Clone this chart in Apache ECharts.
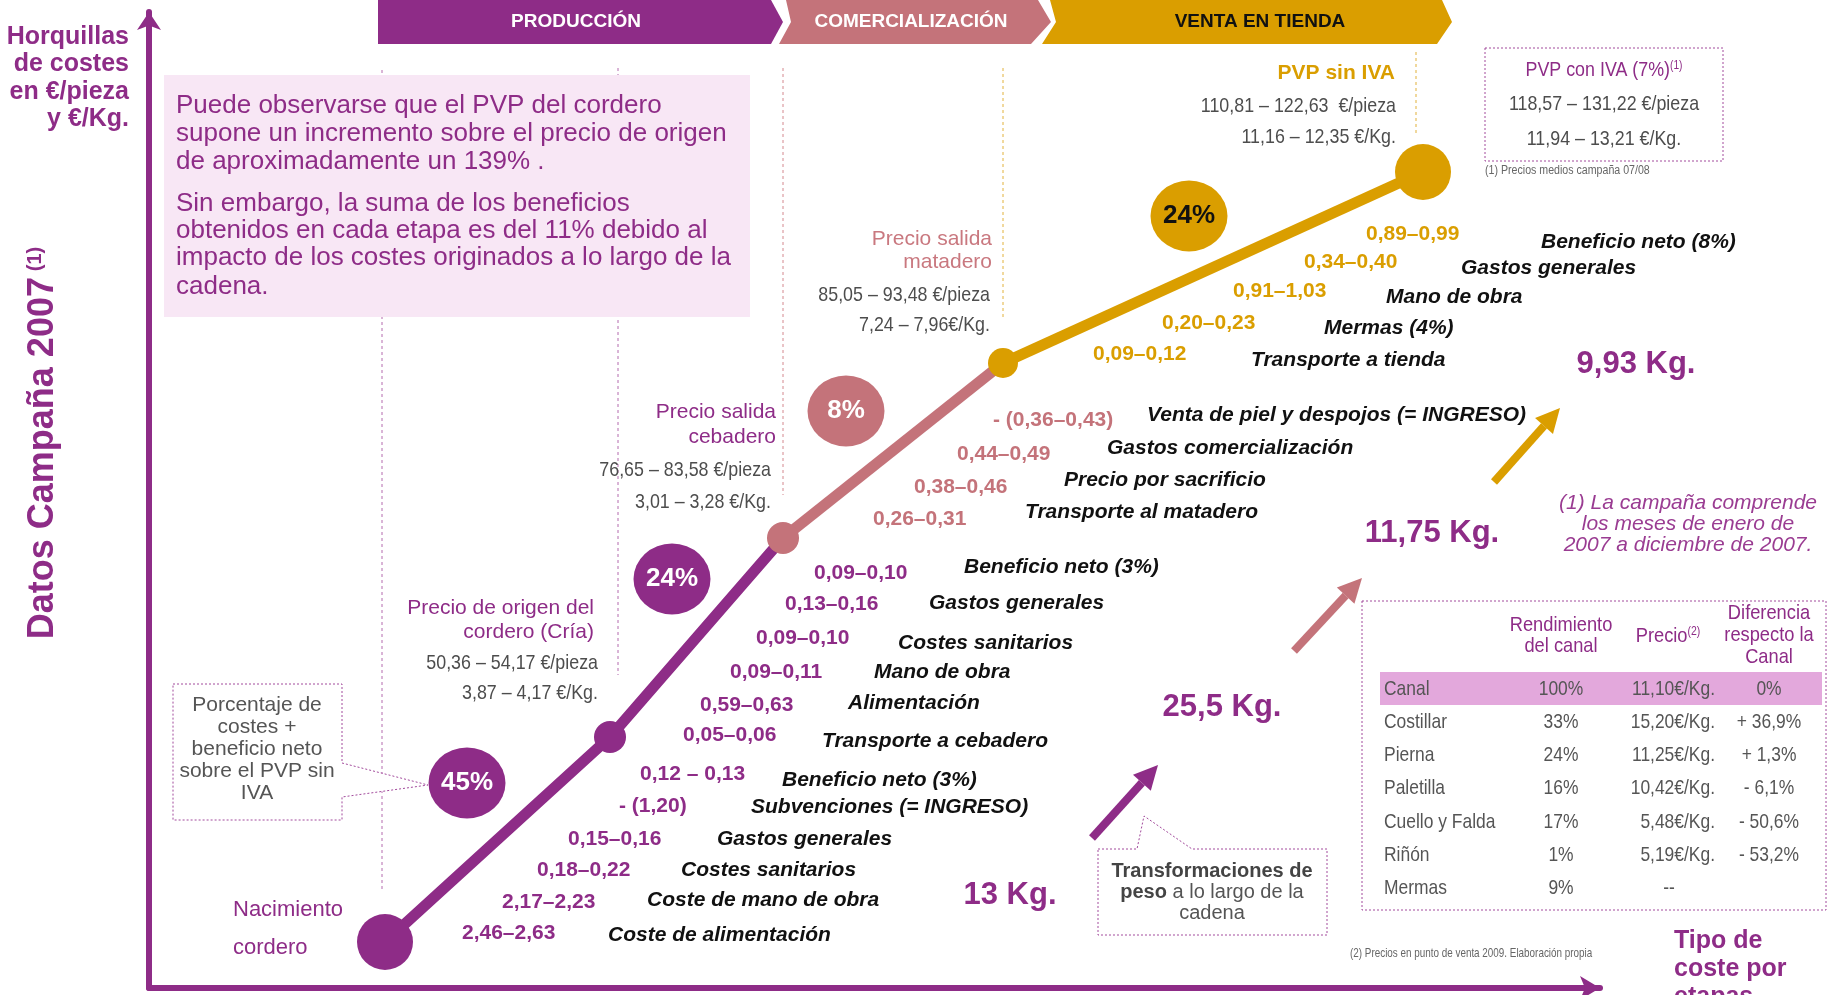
<!DOCTYPE html>
<html>
<head>
<meta charset="utf-8">
<script src="https://cdn.jsdelivr.net/npm/echarts@6/dist/echarts.min.js"></script>
<style>
html, body { margin: 0; padding: 0; background: #fff; }
#chart { width: 1836px; height: 995px; }
</style>
</head>
<body>
<div id="chart"></div>
<script>
// etapas de la cadena (en unidades del eje)
const stages = ['Nacimiento cordero', 'Precio de origen', 'Precio salida cebadero', 'Precio salida matadero', 'PVP sin IVA'];
const stageX = [236, 461, 634, 854, 1274];
const stageY = [46, 251, 450, 625, 816];

// porcentaje de costes + beneficio neto sobre el PVP sin IVA
const stagePct = ['45%', '24%', '8%', '24%'];
const pctX = [318, 523, 697, 1040];
const pctY = [205, 409, 577, 772];

// horquillas de precio por etapa
const origenPrice = ['50,36 – 54,17 €/pieza', '3,87 – 4,17 €/Kg.'];
const cebaderoPrice = ['76,65 – 83,58 €/pieza', '3,01 – 3,28 €/Kg.'];
const mataderoPrice = ['85,05 – 93,48 €/pieza', '7,24 – 7,96€/Kg.'];
const pvpPrice = ['110,81 – 122,63  €/pieza', '11,16 – 12,35 €/Kg.'];
const pvpIvaPrice = ['118,57 – 131,22 €/pieza', '11,94 – 13,21 €/Kg.'];

// costes por etapa (€/Kg.)
const criaValues = ['2,46–2,63', '2,17–2,23', '0,18–0,22', '0,15–0,16', '- (1,20)', '0,12 – 0,13'];
const criaLabels = ['Coste de alimentación', 'Coste de mano de obra', 'Costes sanitarios', 'Gastos generales', 'Subvenciones (= INGRESO)', 'Beneficio neto (3%)'];
const cebaderoValues = ['0,05–0,06', '0,59–0,63', '0,09–0,11', '0,09–0,10', '0,13–0,16', '0,09–0,10'];
const cebaderoLabels = ['Transporte a cebadero', 'Alimentación', 'Mano de obra', 'Costes sanitarios', 'Gastos generales', 'Beneficio neto (3%)'];
const mataderoValues = ['0,26–0,31', '0,38–0,46', '0,44–0,49', '- (0,36–0,43)'];
const mataderoLabels = ['Transporte al matadero', 'Precio por sacrificio', 'Gastos comercialización', 'Venta de piel y despojos (= INGRESO)'];
const tiendaValues = ['0,09–0,12', '0,20–0,23', '0,91–1,03', '0,34–0,40', '0,89–0,99'];
const tiendaLabels = ['Transporte a tienda', 'Mermas (4%)', 'Mano de obra', 'Gastos generales', 'Beneficio neto (8%)'];

// pesos a lo largo de la cadena
const weights = ['13 Kg.', '25,5 Kg.', '11,75 Kg.', '9,93 Kg.'];

// tabla de despiece
const cuts = ['Canal', 'Costillar', 'Pierna', 'Paletilla', 'Cuello y Falda', 'Riñón', 'Mermas'];
const cutYield = ['100%', '33%', '24%', '16%', '17%', '1%', '9%'];
const cutPrice = ['11,10€/Kg.', '15,20€/Kg.', '11,25€/Kg.', '10,42€/Kg.', '5,48€/Kg.', '5,19€/Kg.', '--'];
const cutDiff = ['0%', '+ 36,9%', '+ 1,3%', '- 6,1%', '- 50,6%', '- 53,2%', ''];

const P = '#8E2C87', R = '#C4737A', G = '#DA9E00', GRAY = '#4D4D4D';
const F = '"Liberation Sans", Arial, sans-serif';

function T(x, y, text, o) {
    o = o || {};
    return {
        type: 'text', x: x, y: y, z: o.z || 20, scaleX: o.sx || 1, rotation: o.rot || 0,
        style: {
            text: text, x: 0, y: 0,
            fill: o.color || GRAY,
            font: o.font || ('21px ' + F),
            textAlign: o.align || 'left',
            textVerticalAlign: 'middle',
            rich: o.rich
        }
    };
}

function arrow(x0, y0, x1, y1, color) {
    const dx = x1 - x0, dy = y1 - y0, len = Math.hypot(dx, dy);
    const ux = dx / len, uy = dy / len, L = 24, W = 12;
    const bx = x1 - ux * L, by = y1 - uy * L;
    return [
        { type: 'line', z: 5, shape: { x1: x0, y1: y0, x2: bx, y2: by }, style: { stroke: color, lineWidth: 8 } },
        { type: 'polygon', z: 5, shape: { points: [[x1, y1], [bx - uy * W, by + ux * W], [bx + uy * W, by - ux * W]] }, style: { fill: color } }
    ];
}

function vdash(x, y1, y2, color) {
    return { type: 'line', z: 1, shape: { x1: x, y1: y1, x2: x, y2: y2 }, style: { stroke: color, lineWidth: 1, lineDash: [3, 3] } };
}

const g = [];

// cabecera de etapas
g.push({ type: 'polygon', z: 1, shape: { points: [[378, 0], [771, 0], [783, 22], [771, 44], [378, 44]] }, style: { fill: P } });
g.push({ type: 'polygon', z: 1, shape: { points: [[786, 0], [1038, 0], [1051, 22], [1031, 44], [779, 44], [791, 22]] }, style: { fill: R } });
g.push({ type: 'polygon', z: 1, shape: { points: [[1050, 0], [1442, 0], [1452, 22], [1437, 44], [1042, 44], [1056, 22]] }, style: { fill: G } });
g.push(T(576, 22, 'PRODUCCIÓN', { color: '#fff', font: 'bold 19px ' + F, align: 'center' }));
g.push(T(911, 22, 'COMERCIALIZACIÓN', { color: '#fff', font: 'bold 19px ' + F, align: 'center' }));
g.push(T(1260, 22, 'VENTA EN TIENDA', { color: '#111', font: 'bold 19px ' + F, align: 'center' }));

// titulo del eje vertical
['Horquillas', 'de costes', 'en €/pieza', 'y €/Kg.'].forEach((s, i) => {
    g.push(T(129, 37 + i * 27.5, s, { color: P, font: 'bold 25px ' + F, align: 'right' }));
});
g.push(T(43, 443, '{m|Datos Campaña 2007} {s|(1)}', {
    rot: Math.PI / 2, align: 'center',
    rich: { m: { font: 'bold 36px ' + F, fill: P }, s: { font: 'bold 20px ' + F, fill: P, verticalAlign: 'top' } }
}));

// lineas punteadas verticales
g.push(vdash(382, 70, 890, '#B46AAE'));
g.push(vdash(618, 68, 675, '#B46AAE'));
g.push(vdash(783, 68, 495, '#D4888E'));
g.push(vdash(1003, 68, 320, '#E2B23C'));
g.push(vdash(1416, 52, 133, '#E2B23C'));

// cuadro de texto
g.push({ type: 'rect', z: 2, shape: { x: 164, y: 75, width: 586, height: 242 }, style: { fill: '#F8E7F5' } });
const boxLines = ['Puede observarse que el PVP del cordero', 'supone un incremento sobre el precio de origen', 'de aproximadamente un 139% .',
    'Sin embargo, la suma de los beneficios', 'obtenidos en cada etapa es del 11% debido al', 'impacto de los costes originados a lo largo de la', 'cadena.'];
const boxY = [106, 134, 162, 204, 231, 258, 287];
boxLines.forEach((s, i) => g.push(T(176, boxY[i], s, { color: P, font: '26px ' + F })));

// etiquetas de etapas
g.push(T(233, 910, 'Nacimiento', { color: P, font: '22px ' + F }));
g.push(T(233, 948, 'cordero', { color: P, font: '22px ' + F }));
g.push(T(594, 608, 'Precio de origen del', { color: P, align: 'right' }));
g.push(T(594, 632, 'cordero (Cría)', { color: P, align: 'right' }));
g.push(T(598, 663, origenPrice[0], { align: 'right', sx: 0.85 }));
g.push(T(598, 693, origenPrice[1], { align: 'right', sx: 0.85 }));
g.push(T(776, 412, 'Precio salida', { color: P, align: 'right' }));
g.push(T(776, 437, 'cebadero', { color: P, align: 'right' }));
g.push(T(771, 470, cebaderoPrice[0], { align: 'right', sx: 0.85 }));
g.push(T(771, 502, cebaderoPrice[1], { align: 'right', sx: 0.85 }));
g.push(T(992, 239, 'Precio salida', { color: '#C9787F', align: 'right' }));
g.push(T(992, 262, 'matadero', { color: '#C9787F', align: 'right' }));
g.push(T(990, 295, mataderoPrice[0], { align: 'right', sx: 0.85 }));
g.push(T(990, 325, mataderoPrice[1], { align: 'right', sx: 0.85 }));
g.push(T(1395, 73, 'PVP sin IVA', { color: G, align: 'right', font: 'bold 21px ' + F }));
g.push(T(1396, 106, pvpPrice[0], { align: 'right', sx: 0.85 }));
g.push(T(1396, 137, pvpPrice[1], { align: 'right', sx: 0.85 }));

// PVP con IVA
g.push({ type: 'rect', z: 2, shape: { x: 1485, y: 48, width: 238, height: 113 }, style: { fill: 'rgba(255,255,255,0.6)', stroke: '#A24A9C', lineWidth: 1, lineDash: [2, 2] } });
g.push(T(1604, 70, '{a|PVP con IVA (7%)}{s|(1)}', { align: 'center', sx: 0.85, rich: { a: { font: '21px ' + F, fill: P }, s: { font: '12px ' + F, fill: P, verticalAlign: 'top' } } }));
g.push(T(1604, 104, pvpIvaPrice[0], { align: 'center', sx: 0.85 }));
g.push(T(1604, 139, pvpIvaPrice[1], { align: 'center', sx: 0.85 }));
g.push(T(1485, 171, '(1) Precios medios campaña 07/08', { font: '12.5px ' + F, sx: 0.85, color: '#666' }));

// costes por grupo
function costs(values, labels, vx, vy, lx, ly, color) {
    values.forEach((v, i) => {
        g.push(T(vx[i], vy[i], v, { color: color, font: 'bold 21px ' + F }));
        g.push(T(lx[i], ly[i], labels[i], { color: '#111', font: 'italic bold 21px ' + F }));
    });
}
costs(criaValues, criaLabels, [462, 502, 537, 568, 619, 640], [933, 902, 870, 839, 806, 774],
    [608, 647, 681, 717, 751, 782], [935, 900, 870, 839, 807, 780], P);
costs(cebaderoValues, cebaderoLabels, [683, 700, 730, 756, 785, 814], [735, 705, 672, 638, 604, 573],
    [822, 848, 874, 898, 929, 964], [741, 703, 672, 643, 603, 567], P);
costs(mataderoValues, mataderoLabels, [873, 914, 957, 993], [519, 487, 454, 420],
    [1025, 1064, 1107, 1147], [512, 480, 448, 415], R);
costs(tiendaValues, tiendaLabels, [1093, 1162, 1233, 1304, 1366], [354, 323, 291, 262, 234],
    [1251, 1324, 1386, 1461, 1541], [360, 328, 297, 268, 242], G);

// caja porcentaje
g.push({ type: 'polygon', z: 2, shape: { points: [[173, 684], [342, 684], [342, 763], [428, 785], [342, 797], [342, 820], [173, 820]] },
    style: { fill: '#fff', stroke: '#A24A9C', lineWidth: 1, lineDash: [2, 2] } });
['Porcentaje de', 'costes +', 'beneficio neto', 'sobre el PVP sin', 'IVA'].forEach((s, i) => {
    g.push(T(257, 705 + i * 22, s, { align: 'center', color: '#555' }));
});

// pesos y flechas
const weightPos = [[1010, 895], [1222, 707], [1432, 533], [1636, 364]];
weights.forEach((w, i) => g.push(T(weightPos[i][0], weightPos[i][1], w, { color: P, font: 'bold 31px ' + F, align: 'center' })));
arrow(1092, 838, 1158, 765, P).forEach(e => g.push(e));
arrow(1294, 651, 1362, 578, R).forEach(e => g.push(e));
arrow(1494, 482, 1560, 408, G).forEach(e => g.push(e));

g.push({ type: 'polygon', z: 2, shape: { points: [[1098, 849], [1137, 849], [1144, 816], [1192, 849], [1327, 849], [1327, 935], [1098, 935]] },
    style: { fill: '#fff', stroke: '#A24A9C', lineWidth: 1, lineDash: [2, 2] } });
const trRich = { b: { font: 'bold 20px ' + F, fill: '#444' }, r: { font: '20px ' + F, fill: '#555' } };
g.push(T(1212, 871, '{b|Transformaciones de}', { align: 'center', rich: trRich }));
g.push(T(1212, 892, '{b|peso}{r| a lo largo de la}', { align: 'center', rich: trRich }));
g.push(T(1212, 913, '{r|cadena}', { align: 'center', rich: trRich }));

// nota campaña
['(1) La campaña comprende', 'los meses de enero de', '2007 a diciembre de 2007.'].forEach((s, i) => {
    g.push(T(1688, 503 + i * 21, s, { color: '#9A3C92', font: 'italic 21px ' + F, align: 'center' }));
});

// tabla
g.push({ type: 'rect', z: 2, shape: { x: 1362, y: 601, width: 464, height: 309 }, style: { fill: '#fff', stroke: '#A24A9C', lineWidth: 1, lineDash: [2, 2] } });
g.push({ type: 'rect', z: 3, shape: { x: 1380, y: 672, width: 442, height: 33 }, style: { fill: '#E3A8DC' } });
g.push(T(1561, 625, 'Rendimiento', { color: P, align: 'center', sx: 0.87 }));
g.push(T(1561, 646, 'del canal', { color: P, align: 'center', sx: 0.87 }));
g.push(T(1668, 636, '{a|Precio}{s|(2)}', { align: 'center', sx: 0.87, rich: { a: { font: '21px ' + F, fill: P }, s: { font: '12px ' + F, fill: P, verticalAlign: 'top' } } }));
g.push(T(1769, 613, 'Diferencia', { color: P, align: 'center', sx: 0.87 }));
g.push(T(1769, 635, 'respecto la', { color: P, align: 'center', sx: 0.87 }));
g.push(T(1769, 657, 'Canal', { color: P, align: 'center', sx: 0.87 }));
cuts.forEach((c, i) => {
    const y = 689 + i * 33.2;
    g.push(T(1384, y, c, { sx: 0.83, color: '#555' }));
    g.push(T(1561, y, cutYield[i], { sx: 0.83, color: '#555', align: 'center' }));
    if (cutPrice[i] === '--') g.push(T(1669, y, cutPrice[i], { sx: 0.83, color: '#555', align: 'center' }));
    else g.push(T(1715, y, cutPrice[i], { sx: 0.83, color: '#555', align: 'right' }));
    g.push(T(1769, y, cutDiff[i], { sx: 0.83, color: '#555', align: 'center' }));
});
g.push(T(1350, 953, '(2) Precios en punto de venta 2009. Elaboración propia', { font: '13px ' + F, sx: 0.76, color: '#666' }));

// titulo eje horizontal
['Tipo de', 'coste por', 'etapas'].forEach((s, i) => g.push(T(1674, 941 + i * 28, s, { color: P, font: 'bold 25px ' + F })));

const pts = stageX.map((x, i) => [x, stageY[i]]);
const dotColors = [P, P, R, G, G];
const dotSizes = [56, 32, 32, 30, 56];
const bubbleColors = [P, P, R, G];
const bubbleText = ['#fff', '#fff', '#fff', '#111'];

const option = {
    animation: false,
    backgroundColor: '#fff',
    grid: { left: 149, right: 236, top: 12, bottom: 7, containLabel: false, outerBoundsMode: 'none' },
    xAxis: {
        type: 'value', min: 0, max: 1451,
        axisLine: { show: true, onZero: false, symbol: ['none', 'arrow'], symbolSize: [18, 20], lineStyle: { color: P, width: 6 } },
        axisTick: { show: false }, axisLabel: { show: false }, splitLine: { show: false }
    },
    yAxis: {
        type: 'value', min: 0, max: 976,
        axisLine: { show: true, onZero: false, symbol: ['none', 'arrow'], symbolSize: [18, 18], lineStyle: { color: P, width: 6 } },
        axisTick: { show: false }, axisLabel: { show: false }, splitLine: { show: false }
    },
    graphic: g,
    series: [
        { type: 'line', data: pts.slice(0, 3), symbol: 'none', z: 3, lineStyle: { color: P, width: 11 } },
        { type: 'line', data: pts.slice(2, 4), symbol: 'none', z: 3, lineStyle: { color: R, width: 11 } },
        { type: 'line', data: pts.slice(3, 5), symbol: 'none', z: 3, lineStyle: { color: G, width: 11 } },
        {
            type: 'scatter', name: 'etapas', z: 4,
            data: pts.map((p, i) => ({ name: stages[i], value: p, itemStyle: { color: dotColors[i], opacity: 1 } })),
            symbolSize: (v, p) => dotSizes[p.dataIndex]
        },
        {
            type: 'scatter', name: 'porcentaje', z: 4, symbolSize: [77, 71],
            data: pctX.map((x, i) => ({
                value: [x, pctY[i]], itemStyle: { color: bubbleColors[i], opacity: 1 },
                label: { color: bubbleText[i] }
            })),
            label: {
                show: true, position: 'inside', fontFamily: 'Liberation Sans, Arial', fontWeight: 'bold', fontSize: 26,
                formatter: p => stagePct[p.dataIndex]
            }
        }
    ]
};

const myChart = echarts.init(document.getElementById('chart'));
myChart.setOption(option);
</script>
</body>
</html>
